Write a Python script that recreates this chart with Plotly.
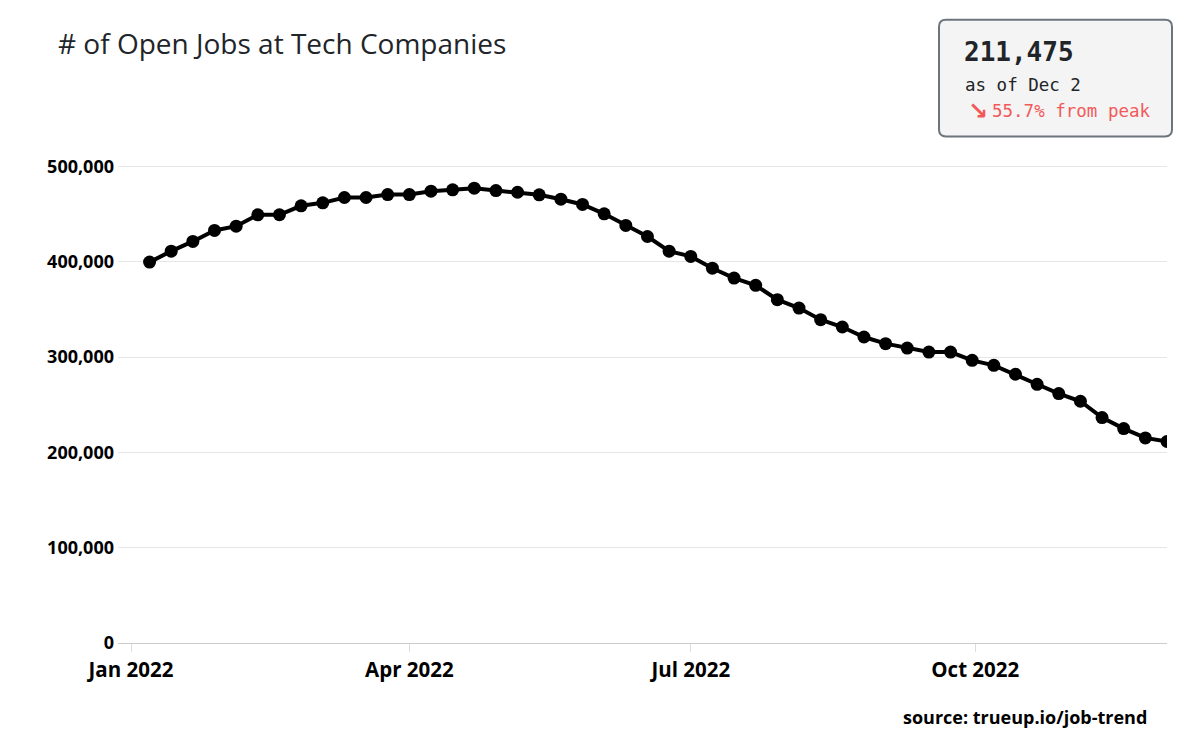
import plotly.graph_objects as go
import pandas as pd

# ---- data ----
dates = pd.date_range("2022-01-07", "2022-12-02", freq="7D").strftime("%Y-%m-%d").tolist()
open_jobs = [
    399700, 411200, 421400, 432900, 437400, 449300, 449400, 458800, 461900, 467500,
    467500, 470600, 470600, 474100, 475600, 477300, 474800, 473000, 470300, 465700,
    460200, 450400, 438200, 426600, 411200, 405700, 393300, 382900, 375300, 360300,
    351500, 339300, 331600, 321100, 314100, 309500, 305300, 305300, 296600, 291400,
    282000, 271500, 261700, 253700, 236600, 225000, 215200, 211475,
]
y_ticks = [0, 100000, 200000, 300000, 400000, 500000]
x_ticks = ["2022-01-01", "2022-04-01", "2022-07-01", "2022-10-01"]
x_tick_text = ["Jan 2022", "Apr 2022", "Jul 2022", "Oct 2022"]

title_text = "# of Open Jobs at Tech Companies"
latest_text = "211,475"
asof_text = "as of Dec 2"
change_text = "55.7% from peak"
source_text = "source: trueup.io/job-trend"

# ---- layout geometry (pixels, in page coordinates; page has 8px body margin) ----
OFF = 8
W, H = 1195 - OFF, 735 - OFF
L, R = 118 - OFF, 1167 - OFF
T, B = 156.5 - OFF, 643 - OFF


def px(x):
    return (x - OFF - L) / (R - L)


def py(y):
    return (B - (y - OFF)) / (B - T)


fig = go.Figure()
fig.add_trace(go.Scatter(
    x=dates, y=open_jobs, mode="lines+markers",
    line=dict(color="black", width=4),
    marker=dict(color="black", size=13),
    hoverinfo="x+y", showlegend=False,
))

# rounded box
bx0, bx1, by0, by1, r = 939, 1172, 19, 136, 7
path = (
    f"M {px(bx0 + r)} {py(by0)} L {px(bx1 - r)} {py(by0)} "
    f"Q {px(bx1)} {py(by0)} {px(bx1)} {py(by0 + r)} "
    f"L {px(bx1)} {py(by1 - r)} Q {px(bx1)} {py(by1)} {px(bx1 - r)} {py(by1)} "
    f"L {px(bx0 + r)} {py(by1)} Q {px(bx0)} {py(by1)} {px(bx0)} {py(by1 - r)} "
    f"L {px(bx0)} {py(by0 + r)} Q {px(bx0)} {py(by0)} {px(bx0 + r)} {py(by0)} Z"
)
fig.add_shape(type="path", path=path, xref="paper", yref="paper",
              fillcolor="#f4f4f4", line=dict(color="#6c757d", width=2), layer="above")

mono = "DejaVu Sans Mono"
fig.add_annotation(x=px(962), y=py(51), xref="paper", yref="paper", xanchor="left", yanchor="middle",
                   text=f"<b>{latest_text}</b>", showarrow=False,
                   font=dict(family=mono, size=26, color="#212529"))
fig.add_annotation(x=px(963), y=py(84), xref="paper", yref="paper", xanchor="left", yanchor="middle",
                   text=asof_text, showarrow=False,
                   font=dict(family=mono, size=17.5, color="#212529"))
fig.add_annotation(x=px(978), y=py(110), xref="paper", yref="paper", xanchor="center", yanchor="middle",
                   text="<b>↘</b>", showarrow=False,
                   font=dict(family="DejaVu Sans", size=24, color="#f25a5a"))
fig.add_annotation(x=px(990), y=py(110), xref="paper", yref="paper", xanchor="left", yanchor="middle",
                   text=change_text, showarrow=False,
                   font=dict(family=mono, size=17.5, color="#f25a5a"))

# title
fig.add_annotation(x=px(56), y=py(42), xref="paper", yref="paper", xanchor="left", yanchor="middle",
                   text=title_text, showarrow=False,
                   font=dict(family="Open Sans", size=28, color="#212529"))
# source
fig.add_annotation(x=px(1149), y=py(717), xref="paper", yref="paper", xanchor="right", yanchor="middle",
                   text=f"<b>{source_text}</b>", showarrow=False,
                   font=dict(family="Open Sans", size=18, color="black"))

fig.update_layout(
    width=W, height=H,
    margin=dict(l=L, r=W - R, t=T, b=H - B, pad=0),
    plot_bgcolor="white", paper_bgcolor="white",
    font=dict(family="Open Sans", color="black"),
    xaxis=dict(
        range=["2021-12-27 19:00", "2022-12-02"],
        tickvals=x_ticks, ticktext=x_tick_text,
        showgrid=False, showline=True, linecolor="#cccccc", linewidth=1,
        ticks="outside", ticklen=8, tickcolor="#dddddd",
        tickfont=dict(family="Open Sans", size=20.5, color="black", weight="bold"),
        zeroline=False,
    ),
    yaxis=dict(
        range=[0, 510000],
        tickvals=y_ticks, tickformat=",",
        showgrid=True, gridcolor="#e6e6e6", gridwidth=1,
        zeroline=False, showline=False,
        ticks="", ticklabelstandoff=3,
        tickfont=dict(family="Open Sans", size=18, color="black", weight="bold"),
    ),
)

fig.write_html("out.html")
